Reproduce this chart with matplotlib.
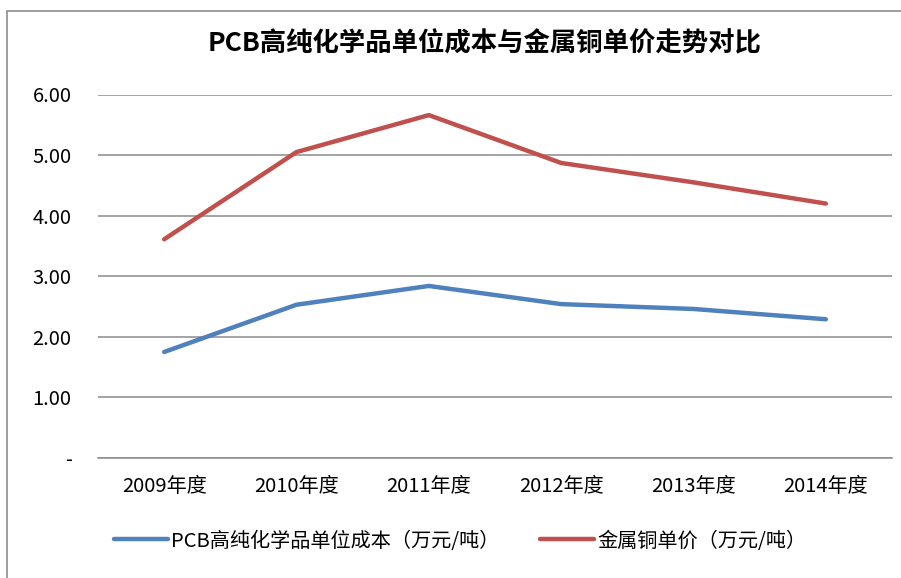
import matplotlib
matplotlib.use("Agg")
import matplotlib.pyplot as plt
from matplotlib.patches import Rectangle

plt.rcParams['font.family'] = ['Noto Sans CJK SC', 'DejaVu Sans']

# data
years = ["2009年度", "2010年度", "2011年度", "2012年度", "2013年度", "2014年度"]
pcb_cost = [1.75, 2.53, 2.84, 2.54, 2.46, 2.29]
copper_price = [3.61, 5.05, 5.66, 4.87, 4.55, 4.20]
yticks = [0, 1, 2, 3, 4, 5, 6]
ytick_labels = ["-", "1.00", "2.00", "3.00", "4.00", "5.00", "6.00"]

W, H = 901, 578
fig = plt.figure(figsize=(W / 100, H / 100), dpi=100)
ax = fig.add_axes([98 / W, 1 - 458 / H, (892 - 98) / W, (458 - 94.5) / H])

x = range(len(years))
ax.plot(x, pcb_cost, color="#4F81BD", lw=3.2, solid_capstyle="round",
        label="PCB高纯化学品单位成本（万元/吨）", zorder=3)
ax.plot(x, copper_price, color="#C0504D", lw=3.2, solid_capstyle="round",
        label="金属铜单价（万元/吨）", zorder=3)

ax.set_xlim(-0.5, len(years) - 0.5)
ax.set_ylim(0, 6)
ax.set_yticks(yticks)
ax.set_yticklabels(ytick_labels)
ax.set_xticks(list(x))
ax.set_xticklabels(years)
ax.grid(axis="y", color="#8C8C8C", lw=1.1)
ax.set_axisbelow(True)
for s in ["top", "right", "left"]:
    ax.spines[s].set_visible(False)
ax.spines["bottom"].set_color("#8C8C8C")
ax.spines["bottom"].set_linewidth(1.1)
ax.tick_params(axis="both", length=0, labelsize=14.5, colors="black")
ax.tick_params(axis="y", pad=19)
ax.tick_params(axis="x", pad=13)

fig.text(485 / W, 1 - 44 / H, "PCB高纯化学品单位成本与金属铜单价走势对比",
         ha="center", va="center", fontsize=19, fontweight="bold")

fig.legend(loc="center", bbox_to_anchor=(460 / W, 1 - 541 / H), ncol=2,
           frameon=False, fontsize=14.5, handlelength=2.7, handletextpad=0.15,
           columnspacing=2.0)

# outer chart border
fig.patches.append(Rectangle((7 / W, -0.1), 2, 1.1 - 11 / H, transform=fig.transFigure,
                             fill=False, edgecolor="#8C8C8C", lw=1.2))

fig.savefig("out.png", dpi=100)
